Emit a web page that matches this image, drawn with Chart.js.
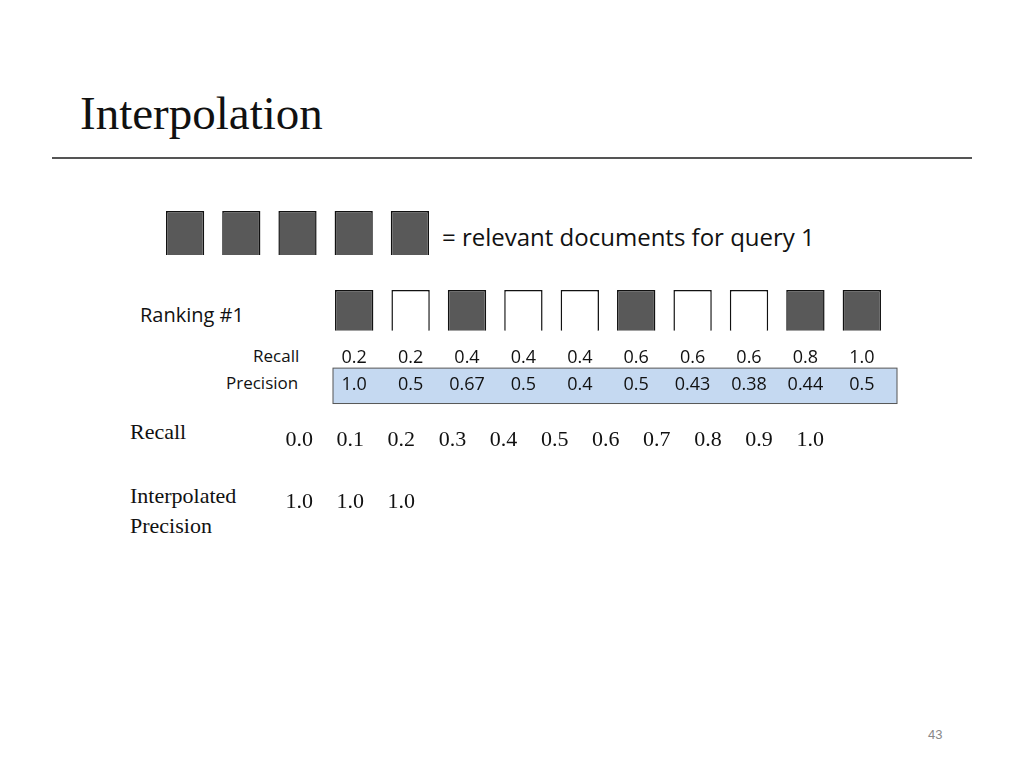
<!DOCTYPE html>
<html><head><meta charset="utf-8">
<script src="https://cdn.jsdelivr.net/npm/chart.js@4"></script>
<style>
body{margin:0;width:1024px;height:768px;background:#fff;position:relative;overflow:hidden;font-family:"Liberation Serif",serif}
.a{position:absolute;white-space:nowrap}
.c{font-family:"Open Sans",sans-serif;font-size:17px;color:#111}
.s{font-size:22px;color:#111}
</style></head><body>
<div class="a" style="left:80px;top:86px;font-size:47px;color:#111">Interpolation</div>
<div class="a" style="left:52px;top:157px;width:920px;height:2px;background:#555"></div>
<div class="a c" style="left:442px;top:220px;font-size:24px">= relevant documents for query 1</div>
<div class="a c" style="left:140px;top:301px;font-size:20px">Ranking #1</div>
<div class="a c" style="left:253px;top:344px">Recall</div>
<div class="a c" style="left:226px;top:371px">Precision</div>
<div class="a s" style="left:130px;top:419px">Recall</div>
<div class="a s" style="left:130px;top:481px;line-height:30px">Interpolated<br>Precision</div>
<div class="a" style="left:928px;top:727px;font-family:'Liberation Sans';font-size:13px;color:#888">43</div>
<div class="a" style="left:157px;top:208px;width:281px;height:50px"><canvas id="leg"></canvas></div>
<div class="a" style="left:320px;top:288px;width:580px;height:120px"><canvas id="rank"></canvas></div>
<div class="a" style="left:270px;top:420px;width:580px;height:110px"><canvas id="interp"></canvas></div>
<script>
const ranks=["1","2","3","4","5","6","7","8","9","10"];
const relevant=[1,0,1,0,0,1,0,0,1,1];
const recallVals=["0.2","0.2","0.4","0.4","0.4","0.6","0.6","0.6","0.8","1.0"];
const precisionVals=["1.0","0.5","0.67","0.5","0.4","0.5","0.43","0.38","0.44","0.5"];
const recallLevels=["0.0","0.1","0.2","0.3","0.4","0.5","0.6","0.7","0.8","0.9","1.0"];
const interpPrecision=["1.0","1.0","1.0"];
const legendDocs=["a","b","c","d","e"];
const DARK="#595959";
const hidden={display:false};
function base(extra){return Object.assign({responsive:true,maintainAspectRatio:false,animation:false,
 plugins:{legend:hidden,tooltip:{enabled:false}}},extra);}
new Chart(document.getElementById('leg'),{type:'bar',
 data:{labels:legendDocs,datasets:[{data:legendDocs.map(()=>[0,1]),backgroundColor:DARK,borderColor:"#111",borderWidth:1.5,barPercentage:0.68,categoryPercentage:1}]},
 options:base({layout:{padding:{top:3,bottom:3}},scales:{x:hidden,y:{display:false,min:0,max:1}}})});
const rowText={id:'rowText',afterDatasetsDraw(ch){
 const c=ch.ctx,x=ch.scales.x,y=ch.scales.y;
 const yr=y.getPixelForValue(-0.67),yp=y.getPixelForValue(-1.32);
 c.save();
 c.fillStyle="#c5d9f1";c.strokeStyle="#555";c.lineWidth=1;
 const bt=y.getPixelForValue(-0.92),bb=y.getPixelForValue(-1.79);
 c.fillRect(ch.chartArea.left+7,bt,ch.chartArea.right-ch.chartArea.left,bb-bt);
 c.strokeRect(ch.chartArea.left+7,bt,ch.chartArea.right-ch.chartArea.left,bb-bt);
 c.fillStyle="#111";c.font='18px "Open Sans"';c.textAlign='center';c.textBaseline='middle';
 ranks.forEach((r,i)=>{const px=x.getPixelForValue(i);
  c.fillText(recallVals[i],px,yr);c.fillText(precisionVals[i],px,yp);});
 c.restore();}};
new Chart(document.getElementById('rank'),{type:'bar',
 data:{labels:ranks,datasets:[{data:ranks.map(()=>[0,1]),backgroundColor:relevant.map(v=>v?DARK:"#fff"),borderColor:"#111",borderWidth:1.5,barPercentage:0.68,categoryPercentage:1}]},
 options:base({layout:{padding:{left:6,right:10,top:2}},scales:{x:hidden,y:{display:false,min:-1.9,max:1}}}),plugins:[rowText]});
const interpText={id:'it',afterDatasetsDraw(ch){
 const c=ch.ctx,x=ch.scales.x,y=ch.scales.y;
 c.save();c.fillStyle="#111";c.font='22px "Liberation Serif"';c.textAlign='center';c.textBaseline='middle';
 recallLevels.forEach((r,i)=>c.fillText(r,x.getPixelForValue(i),y.getPixelForValue(1)));
 interpPrecision.forEach((p,i)=>c.fillText(p,x.getPixelForValue(i),y.getPixelForValue(0)));
 c.restore();}};
new Chart(document.getElementById('interp'),{type:'scatter',
 data:{datasets:[{data:[]}]},
 options:base({layout:{padding:0},scales:{x:{display:false,type:'linear',min:-0.57,max:10.78},y:{display:false,min:-0.45,max:1.32}}}),plugins:[interpText]});
</script></body></html>
